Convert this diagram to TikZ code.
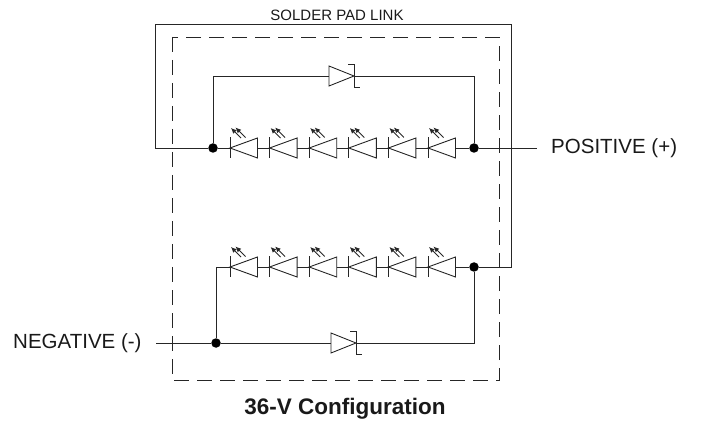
\documentclass[tikz,border=0pt]{standalone}
\usepackage{fontspec}
\setmainfont{Liberation Sans}
\usetikzlibrary{arrows.meta}
\tikzset{
  wire/.style={line width=0.9pt, draw=black!85},
  dot/.style={circle, fill=black, inner sep=0pt, minimum size=9.5pt},
  lbl/.style={font=\fontsize{20.5}{24}\selectfont, inner sep=0pt, text=black!90},
  led/.pic={
    \draw[wire] (0,-10.5) -- (0,10.5);
    \draw[wire] (0,0) -- (27.5,-10) -- (27.5,10) -- cycle;
    \draw[wire, -{Latex[length=5.5pt,width=5pt]}] (11,-10) -- (1,-20);
    \draw[wire, -{Latex[length=5.5pt,width=5pt]}] (15.5,-10.5) -- (5.5,-20.5);
    \coordinate (-k) at (0,0);
    \coordinate (-a) at (27.5,0);
  },
  zener/.pic={
    \draw[wire] (0,-10) -- (25,0) -- (0,10) -- cycle;
    \draw[wire] (19,-12) -- (25,-12) -- (25,11) -- (31,11);
    \coordinate (-a) at (0,0);
    \coordinate (-k) at (25,0);
  }
}
\begin{document}
\begin{tikzpicture}[x=1pt, y=-1pt]
\useasboundingbox (0,0) rectangle (701,430);

% dashed board outline
\draw[line width=0.9pt, draw=black!85, dash pattern=on 15pt off 8pt] (172,37) rectangle (499,380);

% junction dots
\node[dot] (dTL) at (213,148) {};
\node[dot] (dTR) at (474,148) {};
\node[dot] (dBR) at (474,267) {};
\node[dot] (dBL) at (216,343) {};

% LED rows
\foreach \i in {1,...,6} {
  \pic (t\i) at ({230+39.6*(\i-1)},148) {led};
  \pic (b\i) at ({230+39.6*(\i-1)},267) {led};
}
% zeners
\pic (zt) at (329,76) {zener};
\pic (zb) at (331,343) {zener};

% top string
\draw[wire] (dTL) -- (t1-k);
\foreach \i/\j in {1/2,2/3,3/4,4/5,5/6} { \draw[wire] (t\i-a) -- (t\j-k); }
\draw[wire] (t6-a) -- (dTR);
\draw[wire] (dTL) |- (zt-a);
\draw[wire] (zt-k) -| (dTR);

% bottom string
\coordinate (bLeft) at (216,267);
\draw[wire] (dBL) -- (bLeft) -- (b1-k);
\foreach \i/\j in {1/2,2/3,3/4,4/5,5/6} { \draw[wire] (b\i-a) -- (b\j-k); }
\draw[wire] (b6-a) -- (dBR);
\draw[wire] (dBL) -- (zb-a);
\draw[wire] (zb-k) -| (dBR);

% solder pad link
\coordinate (lk1) at (155,148);
\coordinate (lk2) at (155,24);
\coordinate (lk3) at (511,24);
\coordinate (lk4) at (511,267);
\draw[wire] (dTL) -- (lk1) -- (lk2) -- (lk3) -- (lk4) -- (dBR);
\node[font=\fontsize{15}{18}\selectfont, inner sep=0pt, text=black!90] (sol) at (337,15) {SOLDER PAD LINK};

% terminals
\node[lbl, anchor=west] (pos) at (551,148) {POSITIVE (+)};
\coordinate (posEnd) at (537,148);
\draw[wire] (dTR) -- (posEnd);
\node[lbl, anchor=west] (neg) at (13,343) {NEGATIVE (-)};
\coordinate (negEnd) at (156,343);
\draw[wire] (negEnd) -- (dBL);

% caption
\node[font=\bfseries\fontsize{22.5}{26}\selectfont, inner sep=0pt, text=black!90] (cap) at (345,409) {36-V Configuration};
\end{tikzpicture}
\end{document}
